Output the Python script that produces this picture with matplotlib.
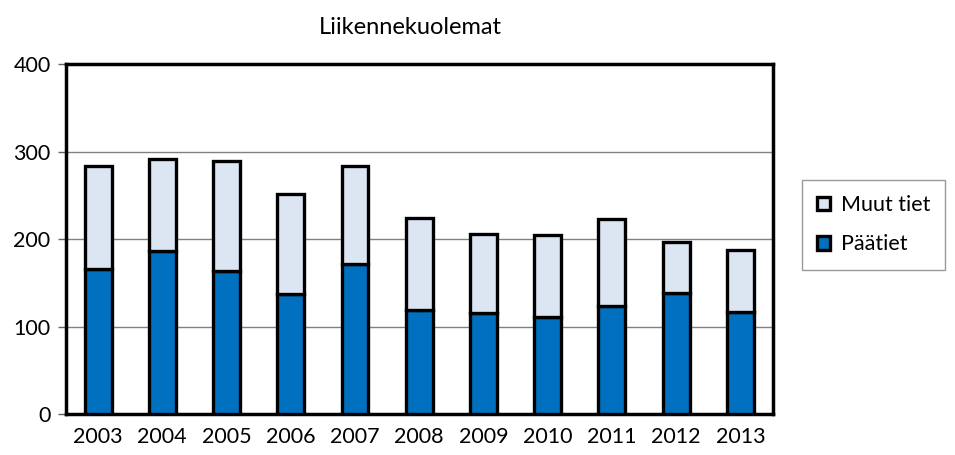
import numpy as np
from matplotlib import pyplot as plt

years = ['2003', '2004', '2005', '2006', '2007', '2008', '2009', '2010', '2011', '2012', '2013']
paatiet = [166, 186, 163, 137, 172, 119, 115, 111, 123, 138, 117]
muut_tiet = [117, 106, 126, 114, 111, 105, 91, 94, 100, 59, 71]

plt.rcParams['font.family'] = ['Lato', 'DejaVu Sans']

fig = plt.figure(figsize=(9.55, 4.55), dpi=100)
ax = fig.add_axes([0.069, 0.090, 0.740, 0.769])

x = np.arange(len(years))
w = 0.42
ax.bar(x, paatiet, w, color='#0070c0', edgecolor='black', linewidth=2.4, label='Päätiet', zorder=3)
ax.bar(x, muut_tiet, w, bottom=paatiet, color='#dce6f2', edgecolor='black', linewidth=2.4,
       label='Muut tiet', zorder=3)

ax.set_xlim(-0.5, len(years) - 0.5)
ax.set_ylim(0, 400)
ax.set_yticks([0, 100, 200, 300, 400])
ax.set_xticks(x)
ax.set_xticklabels(years)
ax.tick_params(axis='x', length=0, labelsize=15.5, pad=9)
ax.tick_params(axis='y', length=6, width=1, color='#606060', labelsize=15.5, pad=5)
ax.grid(axis='y', color='#808080', linewidth=1, zorder=0)
for side in ['left', 'bottom', 'top', 'right']:
    ax.spines[side].set_linewidth(2.5)

fig.text(410 / 955, 1 - 27 / 455, 'Liikennekuolemat', ha='center', va='center', fontsize=17)

handles, labels = ax.get_legend_handles_labels()
leg = fig.legend(handles[::-1], labels[::-1], loc='upper left', bbox_to_anchor=(802 / 955, 1 - 180 / 455),
                 fontsize=15.5, frameon=True, fancybox=False, edgecolor='#808080',
                 handlelength=0.6, handleheight=0.6, labelspacing=0.9, borderpad=0.7,
                 handletextpad=0.5, borderaxespad=0)
leg.get_frame().set_linewidth(1)

fig.savefig('out.png', dpi=100)
